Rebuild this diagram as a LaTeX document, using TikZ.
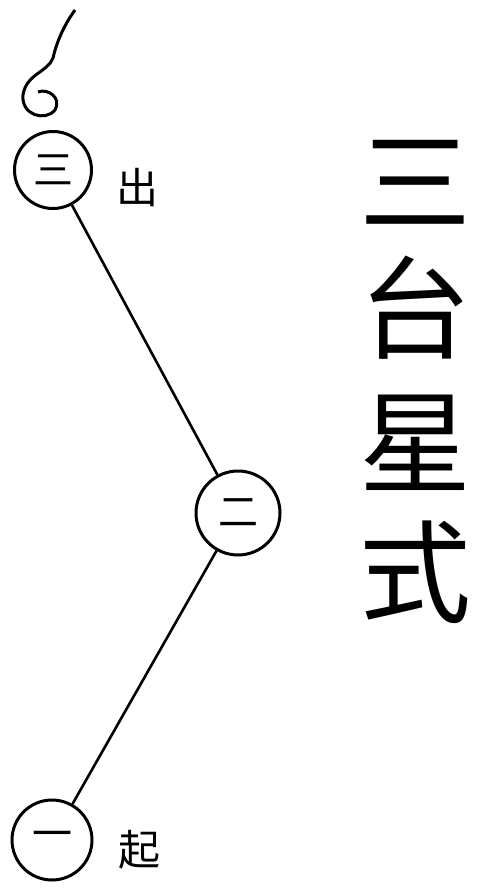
\documentclass[tikz,border=0pt]{standalone}
\usepackage{fontspec}
\newfontfamily\cjk{Noto Sans CJK SC}
\usepackage{tikz}
\usetikzlibrary{positioning}

\begin{document}
\begin{tikzpicture}[x=1pt, y=-1pt,
  star/.style={draw, circle, line width=3pt, inner sep=0pt, font=\cjk\fontsize{40}{40}\selectfont},
  side/.style={font=\cjk\fontsize{42}{42}\selectfont},
  big/.style={font=\cjk\fontsize{112}{112}\selectfont}]
\useasboundingbox (0,0) rectangle (488,890);
\node[star, minimum size=77pt] (upper) at (53,170) {三};
\node[star, minimum size=84pt] (middle) at (238,513) {二};
\node[star, minimum size=80pt] (lower) at (52,840) {一};
\node[side] (out) at (137,188) {出};
\node[side] (rise) at (139,850) {起};
\draw[line width=2.6pt] (upper) -- (middle);
\draw[line width=2.6pt] (middle) -- (lower);
\coordinate (tip) at (75,10);
\draw[line width=3pt] (tip) .. controls (62,28) and (56,45) .. (53,58)
  .. controls (48,72) and (26,74) .. (23,95)
  .. controls (21,115) and (45,122) .. (55,110)
  .. controls (62,98) and (48,88) .. (38,92);
\node[big] (t1) at (415,182) {三};
\node[big] (t2) at (415,308) {台};
\node[big] (t3) at (415,443) {星};
\node[big] (t4) at (415,572) {式};
\end{tikzpicture}
\end{document}
